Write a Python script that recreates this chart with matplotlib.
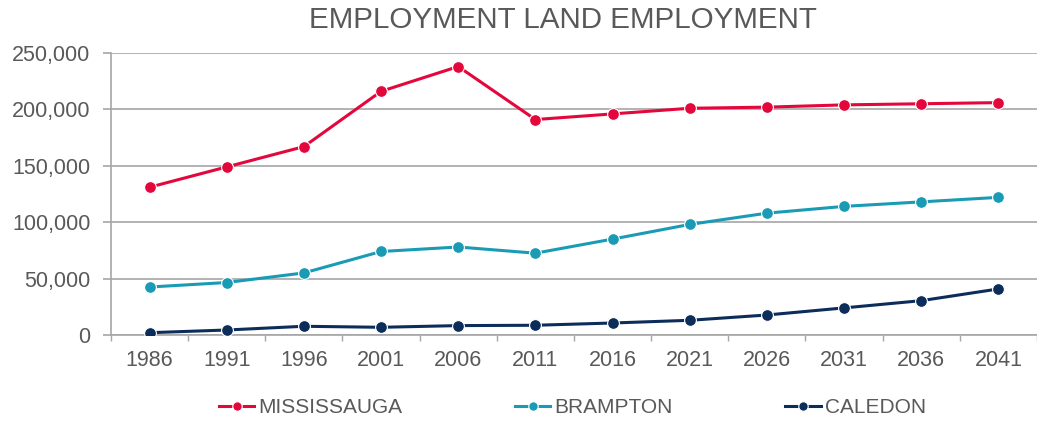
import matplotlib.pyplot as plt
from matplotlib.ticker import FuncFormatter

plt.rcParams['font.family'] = ['Liberation Sans', 'DejaVu Sans']

years = ['1986', '1991', '1996', '2001', '2006', '2011',
         '2016', '2021', '2026', '2031', '2036', '2041']
mississauga = [131000, 149000, 167000, 216000, 238000, 191000,
               196000, 201000, 202000, 204000, 205000, 206000]
brampton = [42500, 46500, 55000, 74000, 78000, 72500,
            85000, 98000, 108000, 114000, 118000, 122000]
caledon = [2000, 4400, 7700, 6800, 8300, 8600,
           10600, 13000, 17700, 24000, 30400, 40800]

text_col = '#595959'
grid_col = '#a6a6a6'

fig = plt.figure(figsize=(10.37, 4.24), dpi=100)
ax = fig.add_axes([0.107, 0.21, 0.893, 0.665])

x = list(range(len(years)))
series = [(mississauga, 'MISSISSAUGA', '#e4073c'),
          (brampton, 'BRAMPTON', '#1a9bb5'),
          (caledon, 'CALEDON', '#0c2d5a')]
for vals, name, col in series:
    ax.plot(x, vals, color=col, lw=2.2, marker='o', ms=8.5,
            mec='white', mew=0.8, label=name, zorder=3)

ax.set_xlim(-0.5, len(years) - 0.5)
ax.set_ylim(0, 250000)
ax.set_yticks(range(0, 250001, 50000))
ax.yaxis.set_major_formatter(FuncFormatter(lambda v, p: f'{int(v):,}'))
ax.grid(axis='y', color=grid_col, lw=1.2)
ax.set_axisbelow(True)

# category labels centred, tick marks on the boundaries
ax.set_xticks(x)
ax.set_xticklabels(years)
ax.set_xticks([i - 0.5 for i in range(len(years) + 1)], minor=True)
ax.tick_params(axis='x', which='major', length=0, pad=11,
               labelsize=15.5, labelcolor=text_col)
ax.tick_params(axis='x', which='minor', length=4, color=grid_col, width=1)
ax.tick_params(axis='y', length=5.8, color=grid_col, width=1.2, pad=9,
               labelsize=15.5, labelcolor=text_col)

for s in ['top', 'right']:
    ax.spines[s].set_visible(False)
for s in ['left', 'bottom']:
    ax.spines[s].set_color(grid_col)
    ax.spines[s].set_linewidth(1.2)

fig.text(0.543, 0.952, 'EMPLOYMENT LAND EMPLOYMENT', ha='center', va='center',
         fontsize=21.3, color=text_col)

leg = fig.legend(loc='center', bbox_to_anchor=(0.552, 0.038), ncol=3,
                 frameon=False, fontsize=15, handlelength=1.7,
                 handletextpad=0.2, columnspacing=5.4, markerscale=0.8)
for t in leg.get_texts():
    t.set_color(text_col)

fig.savefig('out.png', dpi=100)
